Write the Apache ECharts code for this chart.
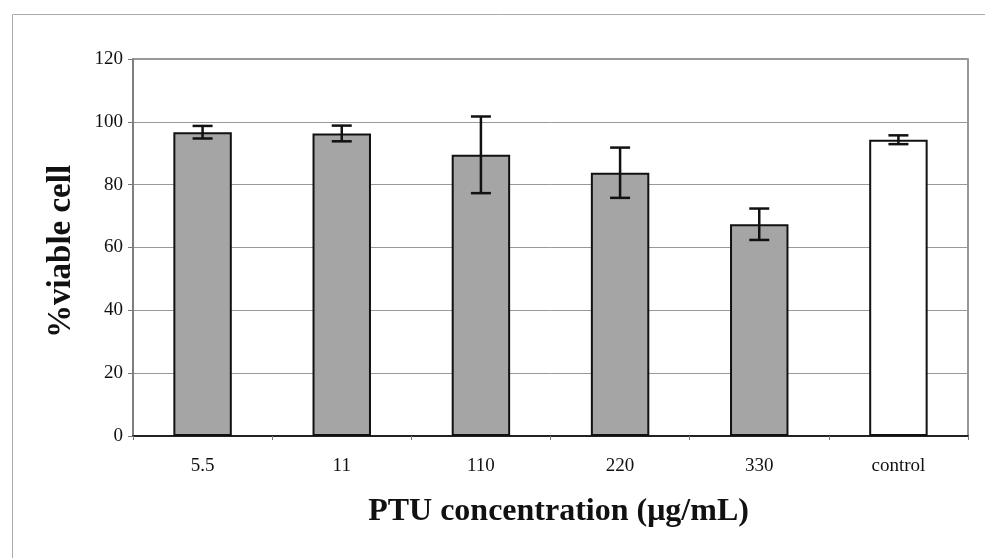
<!DOCTYPE html>
<html><head><meta charset="utf-8">
<script src="https://cdn.jsdelivr.net/npm/echarts@6/dist/echarts.min.js"></script>
<style>html,body{margin:0;padding:0;background:#fff}#c{width:985px;height:558px}</style>
</head><body><div id="c"></div>
<script>
const categories = ['5.5', '11', '110', '220', '330', 'control'];
const meanValues = [96.7, 96.3, 89.5, 83.8, 67.4, 94.3];
const errorValues = [2.0, 2.5, 12.2, 8.0, 5.0, 1.4];
const yTicks = [0, 20, 40, 60, 80, 100, 120];

const chart = echarts.init(document.getElementById('c'));
const serif = '"Liberation Serif", "Times New Roman", serif';
chart.setOption({
  animation: false,
  backgroundColor: '#fff',
  graphic: [{
    type: 'rect', left: 10, top: 12, silent: true,
    shape: { width: 1000, height: 600 },
    style: { fill: 'none', stroke: '#aaa', lineWidth: 1 }
  }],
  grid: { left: 133, right: 17, top: 59, bottom: 122, show: true, borderColor: '#777', borderWidth: 1.5 },
  xAxis: {
    type: 'category', data: categories,
    name: 'PTU concentration (\u03bcg/mL)', nameLocation: 'middle', nameGap: 60,
    nameTextStyle: { fontFamily: serif, fontWeight: 'bold', fontSize: 32, color: '#111', padding: [0, 0, 0, 16] },
    axisLine: { lineStyle: { color: '#222', width: 2 } },
    axisTick: { show: true, length: 4, lineStyle: { color: '#777' } },
    axisLabel: { fontFamily: serif, fontSize: 19, color: '#111', margin: 21 }
  },
  yAxis: {
    type: 'value', min: yTicks[0], max: yTicks[yTicks.length - 1], interval: 20,
    name: '%viable cell', nameLocation: 'middle', nameGap: 55,
    nameTextStyle: { fontFamily: serif, fontWeight: 'bold', fontSize: 33, color: '#111', padding: [0, 8, 0, 0] },
    axisLine: { show: true, lineStyle: { color: '#777', width: 1.5 } },
    axisTick: { show: true, length: 5, lineStyle: { color: '#777' } },
    axisLabel: { fontFamily: serif, fontSize: 19, color: '#111', margin: 10 },
    splitLine: { lineStyle: { color: '#999', width: 1 } }
  },
  series: [{
    type: 'bar', barWidth: '42%',
    data: meanValues.map((v, i) => ({
      value: v,
      itemStyle: { color: categories[i] === 'control' ? '#ffffff' : '#a5a5a5', borderColor: '#111', borderWidth: 2 }
    }))
  }, {
    type: 'custom', z: 10,
    data: meanValues.map((v, i) => [i, v - errorValues[i], v + errorValues[i]]),
    renderItem: function (params, api) {
      const lo = api.coord([api.value(0), api.value(1)]);
      const hi = api.coord([api.value(0), api.value(2)]);
      const hw = 10;
      const st = { stroke: '#111', lineWidth: 2.5 };
      return { type: 'group', children: [
        { type: 'line', shape: { x1: hi[0], y1: hi[1], x2: lo[0], y2: lo[1] }, style: st },
        { type: 'line', shape: { x1: hi[0] - hw, y1: hi[1], x2: hi[0] + hw, y2: hi[1] }, style: st },
        { type: 'line', shape: { x1: lo[0] - hw, y1: lo[1], x2: lo[0] + hw, y2: lo[1] }, style: st }
      ]};
    }
  }]
});
</script></body></html>
